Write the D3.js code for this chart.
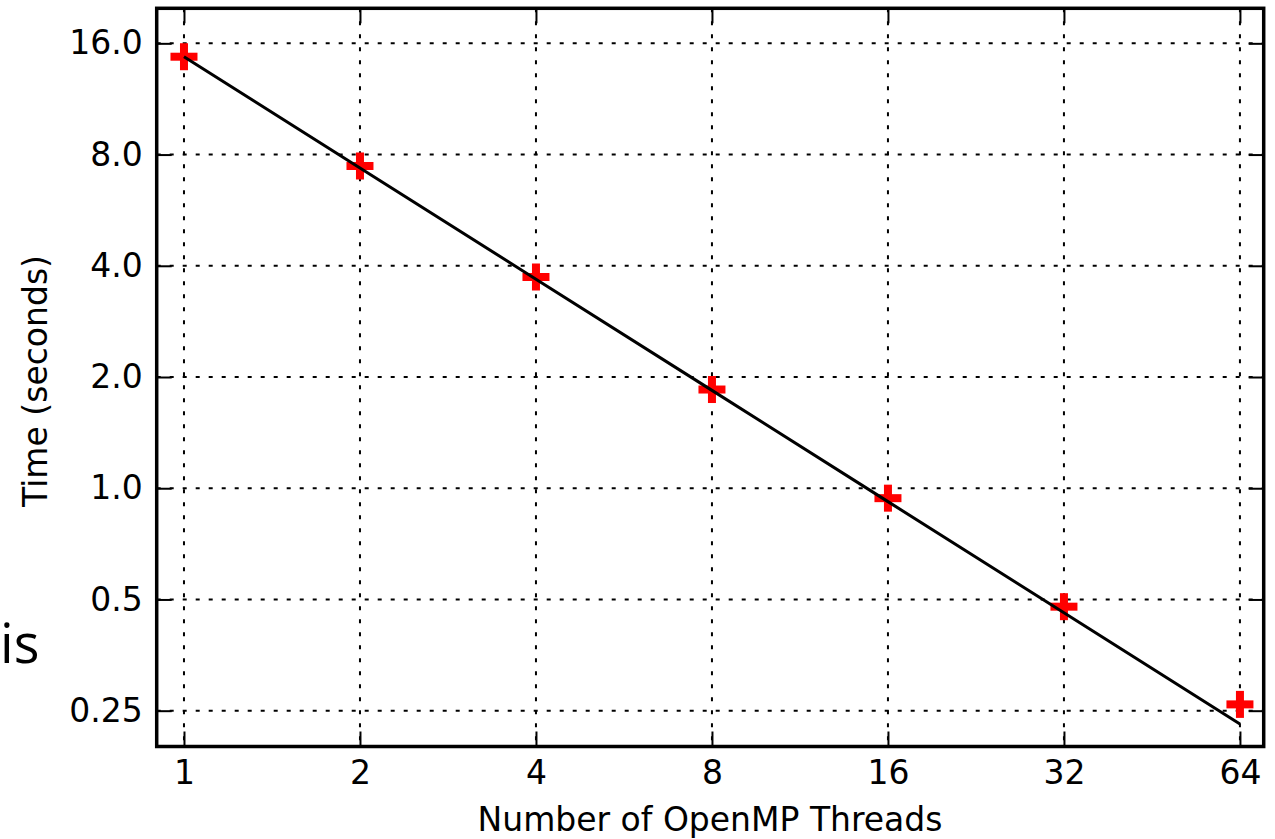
<!DOCTYPE html>
<html>
<head>
<meta charset="utf-8">
<script src="https://cdn.jsdelivr.net/npm/d3@7"></script>
<style>
  html, body { margin: 0; padding: 0; background: #fff; }
  svg { display: block; }
  text { font-family: 'DejaVu Sans', sans-serif; fill: #000; }
</style>
</head>
<body>
<svg id="chart"></svg>
<script>
// data
var threads = [1, 2, 4, 8, 16, 32, 64];
var timeMeasured = [14.72, 7.45, 3.73, 1.85, 0.94, 0.478, 0.260];
var timeIdeal = [14.72, 7.36, 3.68, 1.84, 0.92, 0.46, 0.23];
var xTicks = [1, 2, 4, 8, 16, 32, 64];
var yTicks = [0.25, 0.5, 1, 2, 4, 8, 16];
var yTickLabels = ['0.25', '0.5', '1.0', '2.0', '4.0', '8.0', '16.0'];

var width = 1275;
var height = 839;
var box = { left: 156.7, top: 8.3, right: 1263.7, bottom: 746.5 };

var svg = d3.select('#chart')
    .attr('width', width)
    .attr('height', height);

// log2 scales, padded a bit past the end ticks like matplotlib does
var x = d3.scaleLog().base(2)
    .domain([Math.pow(2, -0.155), Math.pow(2, 6.135)])
    .range([box.left, box.right]);
var y = d3.scaleLog().base(2)
    .domain([0.25 * Math.pow(2, -0.322), 16 * Math.pow(2, 0.315)])
    .range([box.bottom, box.top]);

var tickLen = 15;

// dotted grid
var grid = svg.append('g')
    .attr('stroke', '#000')
    .attr('stroke-width', 2)
    .attr('stroke-dasharray', '4,9');
grid.selectAll('.gx')
    .data(xTicks)
    .enter().append('line')
    .attr('x1', function(d) { return x(d); })
    .attr('x2', function(d) { return x(d); })
    .attr('y1', box.top)
    .attr('y2', box.bottom);
grid.selectAll('.gy')
    .data(yTicks)
    .enter().append('line')
    .attr('x1', box.left)
    .attr('x2', box.right)
    .attr('y1', function(d) { return y(d); })
    .attr('y2', function(d) { return y(d); });

// axes, ticks pointing inwards on all four sides
var bottomAxis = d3.axisBottom(x).tickValues(xTicks).tickFormat(d3.format('d'))
    .tickSizeInner(-tickLen).tickSizeOuter(0).tickPadding(14);
var topAxis = d3.axisTop(x).tickValues(xTicks).tickFormat('')
    .tickSizeInner(-tickLen).tickSizeOuter(0);
var leftAxis = d3.axisLeft(y).tickValues(yTicks)
    .tickFormat(function(d, i) { return yTickLabels[i]; })
    .tickSizeInner(-tickLen).tickSizeOuter(0).tickPadding(14);
var rightAxis = d3.axisRight(y).tickValues(yTicks).tickFormat('')
    .tickSizeInner(-tickLen).tickSizeOuter(0);

function styleAxis(g) {
  g.select('.domain').remove();
  g.selectAll('.tick line').attr('stroke', '#000').attr('stroke-width', 2);
  g.selectAll('.tick text')
    .attr('font-family', "'DejaVu Sans', sans-serif")
    .attr('font-size', 33)
    .attr('fill', '#000');
}

svg.append('g').attr('transform', 'translate(0,' + box.bottom + ')').call(bottomAxis).call(styleAxis);
svg.append('g').attr('transform', 'translate(0,' + box.top + ')').call(topAxis).call(styleAxis);
svg.append('g').attr('transform', 'translate(' + box.left + ',0)').call(leftAxis).call(styleAxis);
svg.append('g').attr('transform', 'translate(' + box.right + ',0)').call(rightAxis).call(styleAxis);

// red plus markers
var plusSize = 27;
var plusThick = 8;
var markers = svg.append('g').attr('fill', '#ff0000');
markers.selectAll('.h')
    .data(threads)
    .enter().append('rect')
    .attr('x', function(d) { return x(d) - plusSize / 2; })
    .attr('y', function(d, i) { return y(timeMeasured[i]) - plusThick / 2; })
    .attr('width', plusSize)
    .attr('height', plusThick);
markers.selectAll('.v')
    .data(threads)
    .enter().append('rect')
    .attr('x', function(d) { return x(d) - plusThick / 2; })
    .attr('y', function(d, i) { return y(timeMeasured[i]) - plusSize / 2; })
    .attr('width', plusThick)
    .attr('height', plusSize);

// ideal scaling line
var line = d3.line()
    .x(function(d) { return x(d); })
    .y(function(d, i) { return y(timeIdeal[i]); });
svg.append('path')
    .datum(threads)
    .attr('d', line)
    .attr('fill', 'none')
    .attr('stroke', '#000')
    .attr('stroke-width', 3);

// frame
svg.append('rect')
    .attr('x', box.left)
    .attr('y', box.top)
    .attr('width', box.right - box.left)
    .attr('height', box.bottom - box.top)
    .attr('fill', 'none')
    .attr('stroke', '#000')
    .attr('stroke-width', 3.5);

// axis labels
svg.append('text')
    .attr('x', 710)
    .attr('y', 831)
    .attr('text-anchor', 'middle')
    .attr('font-size', 33)
    .text('Number of OpenMP Threads');
svg.append('text')
    .attr('transform', 'translate(47,381) rotate(-90)')
    .attr('text-anchor', 'middle')
    .attr('font-size', 33)
    .text('Time (seconds)');

// stray slide text at the left edge
svg.append('text')
    .attr('x', 0)
    .attr('y', 663)
    .attr('text-anchor', 'start')
    .style('font-family', "'Open Sans', sans-serif")
    .attr('font-size', 54)
    .text('is');
</script>
</body>
</html>
